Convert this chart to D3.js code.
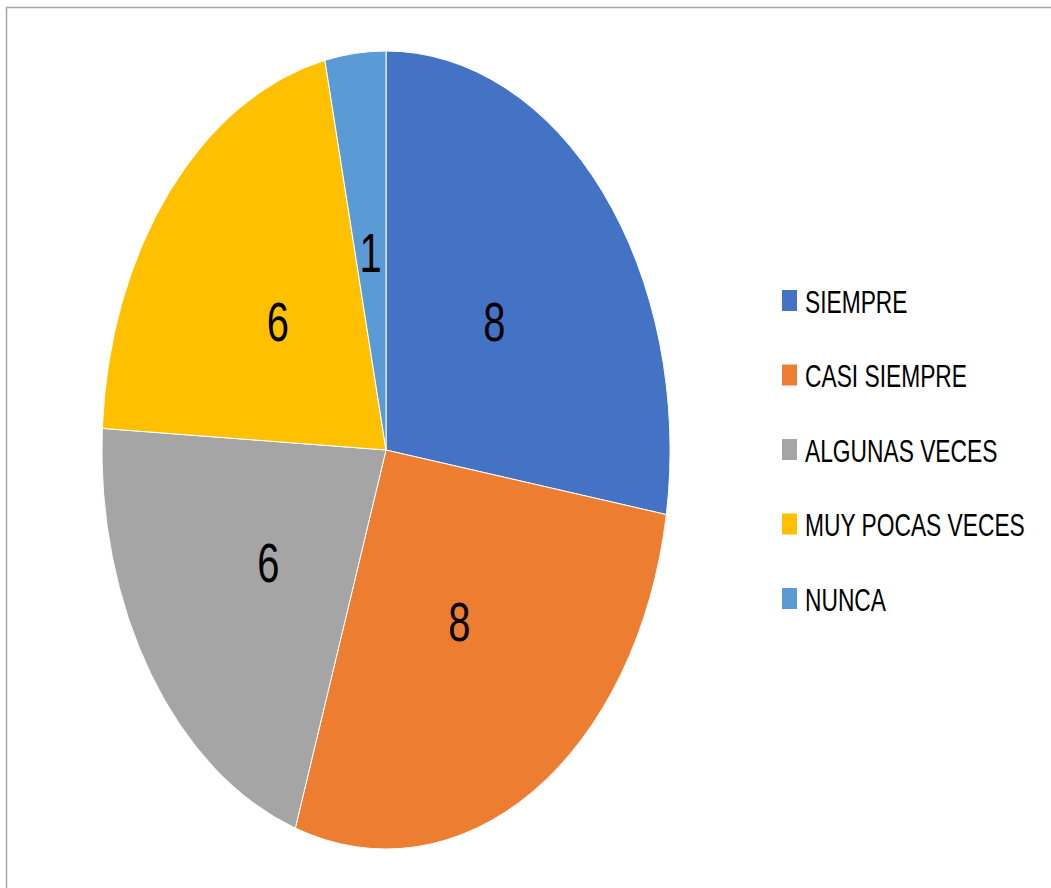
<!DOCTYPE html>
<html>
<head>
<meta charset="utf-8">
<script src="https://cdn.jsdelivr.net/npm/d3@7"></script>
<style>
  body { margin: 0; background: #fff; }
  text { font-family: "Liberation Sans", Arial, sans-serif; fill: #000; }
</style>
</head>
<body>
<div id="grafico"></div>
<script>
var categorias = ["SIEMPRE", "CASI SIEMPRE", "ALGUNAS VECES", "MUY POCAS VECES", "NUNCA"];
var valores = [8, 8, 6, 6, 1];
var colores = ["#4472C4", "#ED7D31", "#A5A5A5", "#FFC000", "#5B9BD5"];

var datos = categorias.map(function(c, i){ return {nombre: c, dato: valores[i]}; });

var width = 1051, height = 888;
var cx = 386, cy = 450;
var radio = 399;
var escalaX = 0.712; // la torta original esta comprimida horizontalmente

var svg = d3.select("#grafico").append("svg")
  .attr("width", width).attr("height", height);

// marco gris
svg.append("rect")
  .attr("x", 6.5).attr("y", 7.5)
  .attr("width", 1100).attr("height", 1000)
  .attr("fill", "none").attr("stroke", "#a6a6a6").attr("stroke-width", 1.5);

var color = d3.scaleOrdinal().domain(categorias).range(colores);

var arc = d3.arc().outerRadius(radio).innerRadius(0);
var pie = d3.pie().sort(null).value(function(d){ return d.dato; });

var torta = svg.append("g")
  .attr("transform", "translate(" + cx + "," + cy + ") scale(" + escalaX + ",1)");

var g = torta.selectAll(".arc").data(pie(datos)).enter()
  .append("g").attr("class", "arc");

g.append("path")
  .attr("d", arc)
  .attr("fill", function(d){ return color(d.data.nombre); })
  .attr("stroke", "#fff")
  .attr("stroke-width", 1)
  .attr("vector-effect", "non-scaling-stroke");

g.append("text")
  .attr("transform", function(d){ return "translate(" + arc.centroid(d) + ")"; })
  .attr("text-anchor", "middle")
  .attr("dy", "0.36em")
  .style("font-size", "56px")
  .text(function(d){ return d.data.dato; });

// leyenda
var y = d3.scalePoint().domain(categorias).range([301, 599]);

var leyenda = svg.selectAll(".leyenda").data(categorias).enter()
  .append("g").attr("class", "leyenda")
  .attr("transform", function(d){ return "translate(782," + y(d) + ")"; });

leyenda.append("rect")
  .attr("x", 0).attr("y", -11)
  .attr("width", 15).attr("height", 21)
  .attr("fill", function(d){ return color(d); });

leyenda.append("text")
  .attr("transform", "translate(23,0) scale(" + escalaX + ",1)")
  .attr("dy", "0.36em")
  .style("font-size", "32px")
  .text(function(d){ return d; });
</script>
</body>
</html>
